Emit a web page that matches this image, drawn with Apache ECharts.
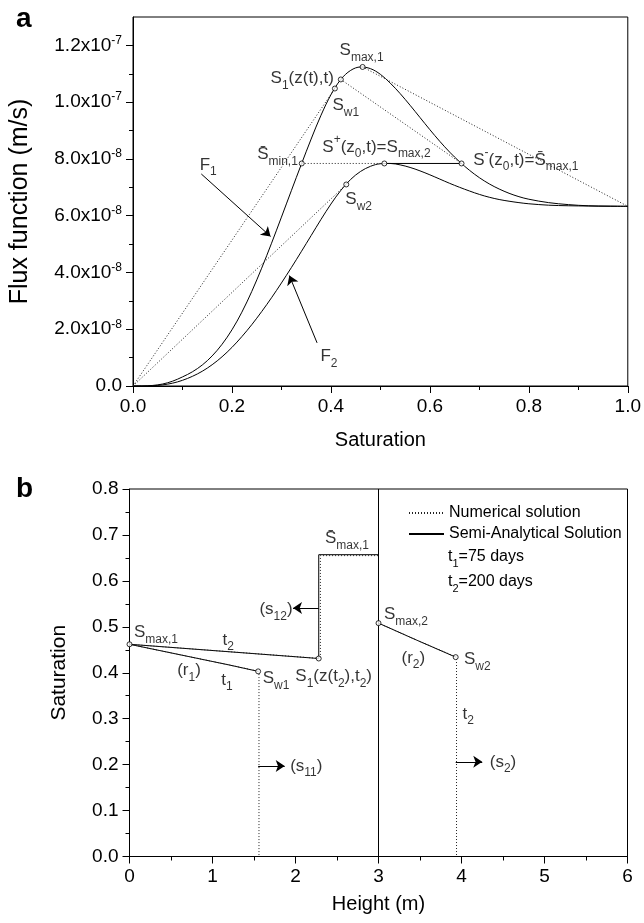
<!DOCTYPE html>
<html>
<head>
<meta charset="utf-8">
<script src="https://cdn.jsdelivr.net/npm/echarts@6/dist/echarts.min.js"></script>
<style>
html, body { margin: 0; padding: 0; background: #fff; }
#chart { width: 644px; height: 923px; }
</style>
</head>
<body>
<div id="chart"></div>
<script>
var FONT = '"Liberation Sans", Arial, sans-serif';

// ---- panel a : flux functions (flux in units of 1e-8 m/s) ----
var satGrid = [0, 0.02, 0.04, 0.06, 0.08, 0.10, 0.12, 0.14, 0.16, 0.18, 0.20, 0.22, 0.24, 0.26, 0.28, 0.30,
	0.32, 0.34, 0.36, 0.38, 0.40, 0.42, 0.44, 0.46, 0.48, 0.50, 0.52, 0.54, 0.56, 0.58, 0.60, 0.62, 0.64,
	0.66, 0.68, 0.70, 0.72, 0.74, 0.76, 0.78, 0.80, 0.84, 0.88, 0.92, 0.96, 1.00];
var fluxF1 = [0, 0, 0.02, 0.07, 0.17, 0.32, 0.50, 0.74, 1.06, 1.47, 1.98, 2.60, 3.33, 4.15, 5.03, 5.95,
	6.88, 7.80, 8.70, 9.54, 10.26, 10.80, 11.12, 11.24, 11.18, 10.98, 10.67, 10.30, 9.89, 9.46, 9.03, 8.62, 8.24,
	7.90, 7.60, 7.34, 7.12, 6.94, 6.79, 6.67, 6.58, 6.46, 6.39, 6.35, 6.34, 6.33];
var fluxF2 = [0, 0, 0.01, 0.04, 0.10, 0.20, 0.34, 0.52, 0.75, 1.03, 1.36, 1.74, 2.16, 2.62, 3.11, 3.63,
	4.17, 4.73, 5.30, 5.87, 6.41, 6.89, 7.28, 7.56, 7.74, 7.83, 7.84, 7.79, 7.70, 7.58, 7.44, 7.29, 7.14,
	7.00, 6.87, 6.75, 6.65, 6.57, 6.51, 6.46, 6.42, 6.37, 6.35, 6.34, 6.33, 6.33];

// special points [saturation, flux]
var ptSmin1 = [0.341, 7.84];
var ptSmax1 = [0.464, 11.24];
var ptS1 = [0.42, 10.8];
var ptSw1 = [0.408, 10.48];
var ptSmax2 = [0.508, 7.84];
var ptSminus = [0.664, 7.84];
var ptSw2 = [0.431, 7.10];
var ptEnd = [1.0, 6.33];

var fluxTicks = [0, 2, 4, 6, 8, 10, 12];
var fluxMinor = [1, 3, 5, 7, 9, 11];

// ---- panel b : saturation profiles ----
var zT1 = [0, 0.4, 0.8, 1.2, 1.55];
var sT1 = [0.462, 0.447, 0.432, 0.417, 0.403];
var zT2 = [0, 2.28, 2.28, 3.0];
var sT2 = [0.462, 0.431, 0.657, 0.657];
var zR2 = [3.0, 3.46, 3.93];
var sR2 = [0.508, 0.471, 0.434];
// numerical solution
var zNumT1 = [0, 0.4, 0.8, 1.2, 1.56, 1.56];
var sNumT1 = [0.462, 0.447, 0.432, 0.417, 0.403, 0];
var zNumT2 = [0, 2.30, 2.30, 3.0];
var sNumT2 = [0.462, 0.431, 0.655, 0.655];
var zNumR2 = [3.0, 3.46, 3.94, 3.94];
var sNumR2 = [0.508, 0.471, 0.434, 0];
var zInterface = 3.0;
var dotsB = [[0, 0.462], [1.55, 0.403], [2.28, 0.431], [3.0, 0.508], [3.93, 0.434]];

function zip(a, b) {
	return a.map(function(v, i) { return [v, b[i]]; });
}

var rich = {
	m: { fontSize: 17, lineHeight: 26, fontFamily: FONT, color: '#000' },
	b: { fontSize: 12, lineHeight: 12, verticalAlign: 'bottom', fontFamily: FONT, color: '#000' },
	p: { fontSize: 12, lineHeight: 12, verticalAlign: 'top', fontFamily: FONT, color: '#000' }
};

// text notes: [rich text, x, y] (text centre in data units)
var notesA = [
	['{m|F}{b|1}', 0.152, 7.79],
	['{m|F}{b|2}', 0.396, 1.03],
	['{m|S\u0304}{b|min,1}', 0.292, 8.15],
	['{m|S}{b|1}{m|(z(t),t)}', 0.342, 10.83],
	['{m|S}{b|max,1}', 0.462, 11.82],
	['{m|S}{b|w1}', 0.43, 9.88],
	['{m|S}{p|+}{m|(z}{b|0}{m|,t)=S}{b|max,2}', 0.492, 8.42],
	['{m|S}{p|-}{m|(z}{b|0}{m|,t)=S\u0304}{b|max,1}', 0.794, 7.96],
	['{m|S}{b|w2}', 0.456, 6.58]
];
var notesB = [
	['{m|S}{b|max,1}', 0.319, 0.488],
	['{m|t}{b|2}', 1.19, 0.471],
	['{m|(r}{b|1}{m|)}', 0.717, 0.405],
	['{m|t}{b|1}', 1.175, 0.384],
	['{m|S}{b|w1}', 1.765, 0.388],
	['{m|S}{b|1}{m|(z(t}{b|2}{m|),t}{b|2}{m|)}', 2.46, 0.392],
	['{m|S\u0304}{b|max,1}', 2.62, 0.692],
	['{m|(s}{b|12}{m|)}', 1.765, 0.538],
	['{m|S}{b|max,2}', 3.33, 0.527],
	['{m|(r}{b|2}{m|)}', 3.42, 0.432],
	['{m|S}{b|w2}', 4.19, 0.429],
	['{m|t}{b|2}', 4.08, 0.31],
	['{m|(s}{b|11}{m|)}', 2.13, 0.197],
	['{m|(s}{b|2}{m|)}', 4.5, 0.206]
];
// arrows: [[x0, y0], [x1, y1]] tail to head
var arrowsA = [[[0.138, 7.47], [0.278, 5.27]], [[0.372, 1.52], [0.316, 3.89]]];
var arrowsB = [[[2.28, 0.541], [1.97, 0.541]], [[1.55, 0.197], [1.87, 0.197]], [[3.93, 0.206], [4.25, 0.206]]];

var black = { color: '#000', width: 1 };
var dots = { color: '#222', width: 1, type: [1, 2] };

function line(name, data, style, xi, yi, smooth) {
	return {
		name: name, type: 'line', data: data, xAxisIndex: xi, yAxisIndex: yi,
		symbol: 'none', smooth: smooth || false,
		itemStyle: { color: '#000' },
		lineStyle: style, silent: true, z: 3
	};
}
function noteSeries(notes, xi, yi) {
	return {
		type: 'scatter', xAxisIndex: xi, yAxisIndex: yi, symbolSize: 1, silent: true, z: 10,
		itemStyle: { color: 'transparent' },
		data: notes.map(function(n) {
			return { value: [n[1], n[2]], label: { show: true, position: 'inside', formatter: n[0], rich: rich } };
		})
	};
}
function arrowSeries(list, xi, yi) {
	return {
		type: 'lines', coordinateSystem: 'cartesian2d', xAxisIndex: xi, yAxisIndex: yi,
		symbol: ['none', 'arrow'], symbolSize: [1, 9], silent: true, z: 6,
		lineStyle: { color: '#000', width: 1, opacity: 1 },
		data: list.map(function(a) { return { coords: a }; })
	};
}
function dotSeries(data, xi, yi) {
	return {
		type: 'scatter', xAxisIndex: xi, yAxisIndex: yi, data: data, symbol: 'circle', symbolSize: 5, silent: true, z: 8,
		itemStyle: { color: '#fff', borderColor: '#000', borderWidth: 1 }
	};
}

function fluxLabel(v) {
	if (v === 0) return '{n|0.0}';
	if (v >= 10) return '{n|' + (v / 10).toFixed(1) + 'x10}{e|-7}';
	return '{n|' + v.toFixed(1) + 'x10}{e|-8}';
}

var axisCommon = {
	type: 'value',
	axisLine: { onZero: false, lineStyle: black },
	axisTick: { length: 7, lineStyle: black },
	minorTick: { show: true, splitNumber: 2, length: 4, lineStyle: black },
	splitLine: { show: false },
	minorSplitLine: { show: false },
	axisLabel: { color: '#000', fontSize: 19, fontFamily: FONT, margin: 11 },
	nameLocation: 'middle',
	nameTextStyle: { color: '#000', fontSize: 20, fontFamily: FONT }
};
function ax(o) {
	return echarts.util.merge(echarts.util.clone(axisCommon), o, true);
}

var legendRich = {
	m: { fontSize: 16, lineHeight: 24, fontFamily: FONT, fontWeight: 'normal', color: '#000' },
	b: { fontSize: 11, lineHeight: 11, verticalAlign: 'bottom', fontFamily: FONT, fontWeight: 'normal', color: '#000' }
};

var myChart = echarts.init(document.getElementById('chart'));
var option = {
	animation: false,
	backgroundColor: '#fff',
	title: [
		{ text: 'a', left: 11, top: 0, textStyle: { fontSize: 28, fontWeight: 'bold', fontFamily: FONT, color: '#000' } },
		{ text: 'b', left: 11, top: 470, textStyle: { fontSize: 28, fontWeight: 'bold', fontFamily: FONT, color: '#000' } },
		{ text: '{m|t}{b|1}{m|=75 days}', left: 443, top: 540, textStyle: { fontWeight: 'normal', rich: legendRich } },
		{ text: '{m|t}{b|2}{m|=200 days}', left: 443, top: 565, textStyle: { fontWeight: 'normal', rich: legendRich } }
	],
	legend: {
		data: ['Numerical solution', 'Semi-Analytical Solution'],
		orient: 'vertical', left: 403, top: 500, itemWidth: 35, itemHeight: 12, itemGap: 5,
		itemStyle: { opacity: 0 },
		textStyle: { color: '#000', fontSize: 16, fontFamily: FONT }
	},
	grid: [
		{ left: 129, right: 15, top: 17, bottom: 537, show: true, borderColor: '#000', borderWidth: 1 },
		{ left: 129.5, right: 16.5, top: 489, bottom: 66.5, show: true, borderColor: '#000', borderWidth: 1 }
	],
	xAxis: [
		ax({ gridIndex: 0, min: 0, max: 1, interval: 0.2, name: 'Saturation', nameGap: 44,
			axisLabel: { formatter: function(v) { return v.toFixed(1); } } }),
		ax({ gridIndex: 1, min: 0, max: 6, interval: 1, name: 'Height (m)', nameGap: 38 })
	],
	yAxis: [
		ax({ gridIndex: 0, min: 0, max: 13, interval: 2, name: 'Flux function (m/s)', nameGap: 100,
			nameTextStyle: { fontSize: 25 },
			minorTick: { show: false },
			axisTick: { customValues: fluxTicks },
			axisLabel: { customValues: fluxTicks, formatter: fluxLabel, rich: {
				n: { fontSize: 19, lineHeight: 22, fontFamily: FONT, color: '#000' },
				e: { fontSize: 12, lineHeight: 16, verticalAlign: 'top', fontFamily: FONT, color: '#000' } } } }),
		ax({ gridIndex: 0, position: 'left', min: 0, max: 13, axisLine: { show: false }, axisLabel: { show: false },
			minorTick: { show: false }, axisTick: { customValues: fluxMinor, length: 4 } }),
		ax({ gridIndex: 1, min: 0, max: 0.8, interval: 0.1, name: 'Saturation', nameGap: 60,
			nameTextStyle: { fontSize: 21 },
			axisLabel: { formatter: function(v) { return v.toFixed(1); } } })
	],
	series: [
		line('F1', zip(satGrid, fluxF1), black, 0, 0, 0.35),
		line('F2', zip(satGrid, fluxF2), black, 0, 0, 0.35),
		line('tangent1', [[0, 0], ptSw1], dots, 0, 0),
		line('tangent2', [[0, 0], ptSw2], dots, 0, 0),
		line('chordMax', [ptSmax1, ptEnd], dots, 0, 0),
		line('chordS1', [ptS1, ptSminus], dots, 0, 0),
		line('plateauNum', [ptSmin1, ptSmax2], dots, 0, 0),
		line('plateau', [ptSmax2, ptSminus], black, 0, 0),
		dotSeries([ptSmin1, ptSmax1, ptS1, ptSw1, ptSmax2, ptSminus, ptSw2], 0, 0),
		arrowSeries(arrowsA, 0, 0),
		noteSeries(notesA, 0, 0),

		line('Semi-Analytical Solution', zip(zT1, sT1), black, 1, 2),
		line('Semi-Analytical Solution', zip(zT2, sT2), black, 1, 2),
		line('Semi-Analytical Solution', zip(zR2, sR2), black, 1, 2),
		line('interface', [[zInterface, 0], [zInterface, 0.8]], black, 1, 2),
		line('Numerical solution', zip(zNumT1, sNumT1), dots, 1, 2),
		line('Numerical solution', zip(zNumT2, sNumT2), dots, 1, 2),
		line('Numerical solution', zip(zNumR2, sNumR2), dots, 1, 2),
		dotSeries(dotsB, 1, 2),
		arrowSeries(arrowsB, 1, 2),
		noteSeries(notesB, 1, 2)
	]
};
myChart.setOption(option);
</script>
</body>
</html>
